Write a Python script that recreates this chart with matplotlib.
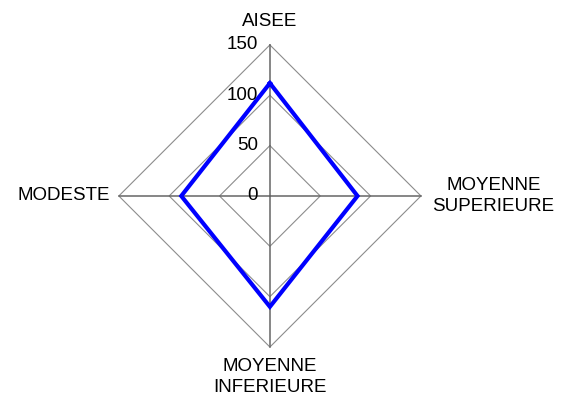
import numpy as np
import matplotlib.pyplot as plt

plt.rcParams['font.family'] = ['Liberation Sans', 'DejaVu Sans']

# axes of the radar, clockwise from the top
categories = ['AISEE', 'MOYENNE\nSUPERIEURE', 'MOYENNE\nINFERIEURE', 'MODESTE']
values = [112, 87, 110, 88]
rings = [0, 50, 100, 150]
ring_labels = ['0', '50', '100', '150']
r_max = 150

angles = np.pi / 2 - np.arange(len(categories)) * 2 * np.pi / len(categories)
cx, cy = np.cos(angles), np.sin(angles)

fig = plt.figure(figsize=(5.70, 4.01), dpi=100)
ax = fig.add_axes([0, 0, 1, 1])
ax.set_xlim(-268, 298)
ax.set_ylim(-203.6, 194.6)
ax.axis('off')

# diamond rings
for r in rings[1:]:
    ax.plot(np.append(cx, cx[0]) * r, np.append(cy, cy[0]) * r,
            color='#8c8c8c', linewidth=0.8, zorder=1)

# spokes
for x, y in zip(cx, cy):
    ax.plot([0, x * r_max], [0, y * r_max], color='#666666', linewidth=1.1, zorder=2)

# data polygon
ax.plot(np.append(cx * values, cx[0] * values[0]),
        np.append(cy * values, cy[0] * values[0]),
        color='#0000ff', linewidth=3, solid_joinstyle='miter', zorder=3)

# ring labels along the top spoke
fs = 13.5
for r, lab in zip(rings, ring_labels):
    ax.text(-12, r, lab, ha='right', va='center', fontsize=fs, color='black')

# category labels
ax.text(0, 173, categories[0], ha='center', va='center', fontsize=fs)
ax.text(222, 0, categories[1], ha='center', va='center', fontsize=fs, linespacing=1.3)
ax.text(0, -180, categories[2], ha='center', va='center', fontsize=fs, linespacing=1.3)
ax.text(-159, 0, categories[3], ha='right', va='center', fontsize=fs)

fig.savefig('out.png', dpi=100, facecolor='white')
